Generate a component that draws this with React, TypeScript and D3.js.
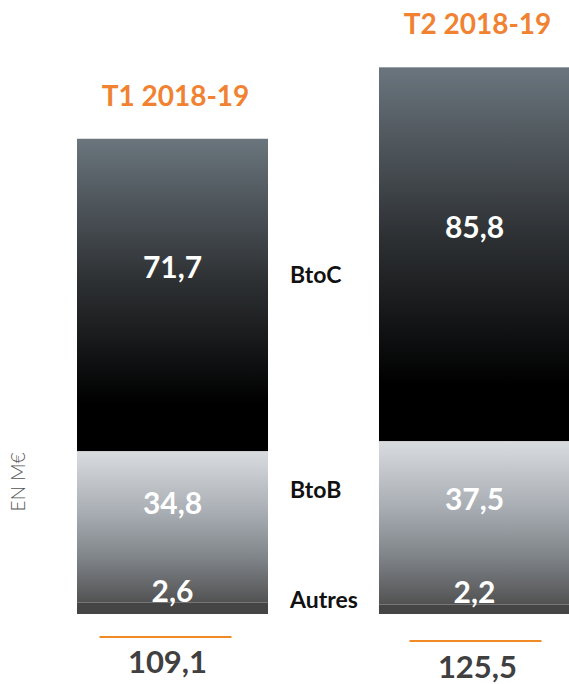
import React from "react";
import * as d3 from "d3";

const periods = ["T1 2018-19", "T2 2018-19"];
const segments = ["Autres", "BtoB", "BtoC"];
const autres = [2.6, 2.2];
const btob = [34.8, 37.5];
const btoc = [71.7, 85.8];
const totals = ["109,1", "125,5"];
const fmt = (v: number) => v.toFixed(1).replace(".", ",");

export default function App() {
  const W = 569, H = 684;
  const base = 614;
  const x = d3.scaleBand<string>().domain(periods).range([77, 570]).paddingInner(0.3675).paddingOuter(0);
  const y = d3.scaleLinear().domain([0, 130]).range([base, base - 130 * 4.356]);
  const rows = periods.map((p, i) => ({ p, Autres: autres[i], BtoB: btob[i], BtoC: btoc[i] }));
  const stack = d3.stack<any>().keys(segments)(rows);
  const fills: Record<string, string> = { Autres: "#454545", BtoB: "url(#gB)", BtoC: "url(#gC)" };
  const labelShift: Record<string, number> = { Autres: -17, BtoB: -23, BtoC: -27 };
  const catY: Record<string, number> = { BtoC: 275, BtoB: 490, Autres: 600 };
  const totalShift = [-7, 1];
  const font = "Lato, 'DejaVu Sans', sans-serif";
  const bw = x.bandwidth();
  return (
    <svg width={W} height={H} style={{ position: "absolute", left: 0, top: 0 }} fontFamily={font}>
      <defs>
        <linearGradient id="gC" x1="0" y1="0" x2="0" y2="1">
          <stop offset="0" stopColor="#6a757d" />
          <stop offset="0.45" stopColor="#2e3134" />
          <stop offset="0.85" stopColor="#000000" />
          <stop offset="1" stopColor="#000000" />
        </linearGradient>
        <linearGradient id="gB" x1="0" y1="0" x2="0" y2="1">
          <stop offset="0" stopColor="#d9dcdf" />
          <stop offset="0.4" stopColor="#a9aeb4" />
          <stop offset="0.7" stopColor="#80858a" />
          <stop offset="1" stopColor="#525252" />
        </linearGradient>
      </defs>
      {stack.map((s) =>
        s.map((d, i) => (
          <rect key={s.key + i} x={x(periods[i])} y={y(d[1])} width={bw} height={y(d[0]) - y(d[1])} fill={fills[s.key]} />
        ))
      )}
      {stack.map((s) =>
        s.map((d, i) => {
          const cy = (y(d[0]) + y(d[1])) / 2 + labelShift[s.key];
          const v = d[1] - d[0];
          return (
            <text key={"l" + s.key + i} x={x(periods[i])! + bw / 2} y={cy} dy="0.35em" textAnchor="middle"
              fill="#ffffff" fontWeight="bold" fontSize={30}>
              {fmt(v)}
            </text>
          );
        })
      )}
      {periods.map((p, i) => {
        const top = y(autres[i] + btob[i] + btoc[i]);
        const cx = x(p)! + bw / 2;
        const tx = cx + totalShift[i];
        return (
          <g key={"t" + p}>
            <text x={cx + 3} y={top - 33} textAnchor="middle" fill="#f08232" fontWeight="bold" fontSize={28}>{p}</text>
            <line x1={tx - 66} x2={tx + 66} y1={637 + i * 4} y2={637 + i * 4} stroke="#f08a24" strokeWidth={2} />
            <text x={tx + 2} y={673 + i * 5} textAnchor="middle" fill="#404040" fontWeight="bold" fontSize={31}>{totals[i]}</text>
          </g>
        );
      })}
      {segments.map((k) => (
        <text key={"c" + k} x={290} y={catY[k]} dy="0.35em" fill="#111" fontWeight="bold" fontSize={23}>{k}</text>
      ))}
      <text transform="translate(25,482) rotate(-90)" textAnchor="middle" fill="#555" fontSize={19} fontWeight="300">EN M€</text>
    </svg>
  );
}
